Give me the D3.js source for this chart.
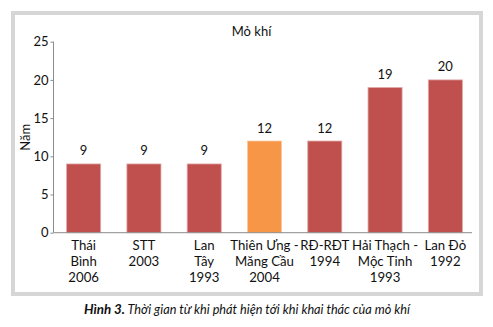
<!DOCTYPE html>
<html><head><meta charset="utf-8">
<script src="https://cdn.jsdelivr.net/npm/d3@7"></script>
<style>
html,body{margin:0;padding:0;background:#fff;}
text{font-family:Lato,"Noto Sans",sans-serif;fill:#111;}
</style></head>
<body><svg id="c" width="493" height="327"></svg>
<script>
const categories = [["Thái","Bình","2006"],["STT","2003"],["Lan","Tây","1993"],["Thiên Ưng -","Măng Cầu","2004"],["RĐ-RĐT","1994"],["Hải Thạch -","Mộc Tinh","1993"],["Lan Đỏ","1992"]];
const values = [9, 9, 9, 12, 12, 19, 20];
const highlight = [false, false, false, true, false, false, false];
const yTicks = [0, 5, 10, 15, 20, 25];
const title = "Mỏ khí";
const yLabel = "Năm";
const captionBold = "Hình 3.";
const captionRest = "Thời gian từ khi phát hiện tới khi khai thác của mỏ khí";

const svg = d3.select("#c");
// frame
svg.append("rect").attr("x",13).attr("y",13).attr("width",468).attr("height",281)
  .attr("fill","#fff").attr("stroke","#d6d6d6").attr("stroke-width",4);

const idx = d3.range(values.length);
const x = d3.scaleBand().domain(idx).range([53.5, 475.5]).paddingInner(0.435).paddingOuter(0.2175);
const y = d3.scaleLinear().domain([0, 25]).range([232.7, 41.7]);

// bars
svg.append("g").selectAll("rect").data(idx).join("rect")
  .attr("x", i => x(i)).attr("width", x.bandwidth())
  .attr("y", i => y(values[i])).attr("height", i => y(0) - y(values[i]))
  .attr("fill", i => highlight[i] ? "#f79646" : "#c0504d")
  .attr("stroke", i => highlight[i] ? "#fbc9a0" : "#e2a9a8").attr("stroke-width", 0.8);

// value labels
svg.append("g").selectAll("text").data(idx).join("text")
  .attr("x", i => x(i) + x.bandwidth()/2).attr("y", i => y(values[i]) - 8.5)
  .attr("text-anchor","middle").attr("font-size","13px").text(i => values[i]);

// y axis
const yAxis = d3.axisLeft(y).tickValues(yTicks).tickSize(3).tickPadding(2);
const gy = svg.append("g").attr("transform","translate(53.5,0)").call(yAxis);
gy.select(".domain").attr("stroke","#8c8c8c").attr("d","M0,41.7V232.7");
gy.selectAll(".tick line").attr("stroke","#8c8c8c");
gy.selectAll(".tick text").attr("font-size","13px").attr("fill","#111")
  .attr("font-family",'Lato,"Noto Sans",sans-serif');

// x axis line
const xAxis = d3.axisBottom(x).tickSize(0).tickFormat("");
const gx = svg.append("g").attr("transform",`translate(0,${y(0)})`).call(xAxis);
gx.select(".domain").attr("stroke","#8c8c8c").attr("d","M53.5,0H472");

// x labels: one text per line
const xg = svg.append("g");
idx.forEach(i => {
  categories[i].forEach((line, k) => {
    xg.append("text").attr("x", x(i) + x.bandwidth()/2).attr("y", 249.5 + k*16.2)
      .attr("text-anchor","middle").attr("font-size","13.2px").text(line);
  });
});

// title
svg.append("text").attr("x",251.5).attr("y",36).attr("text-anchor","middle")
  .attr("font-size","13px").text(title);

// y label
svg.append("text").attr("transform","translate(29.5,137.2) rotate(-90)")
  .attr("text-anchor","middle").attr("font-size","13px").text(yLabel);

// caption
svg.append("text").attr("x",84).attr("y",313.5).attr("font-size","13.5px")
  .attr("font-style","italic").attr("font-weight","bold")
  .attr("textLength",41).attr("lengthAdjust","spacingAndGlyphs").text(captionBold);
svg.append("text").attr("x",127.5).attr("y",313.5).attr("font-size","13.5px")
  .attr("font-style","italic")
  .attr("textLength",282.5).attr("lengthAdjust","spacingAndGlyphs").text(captionRest);
</script></body></html>
